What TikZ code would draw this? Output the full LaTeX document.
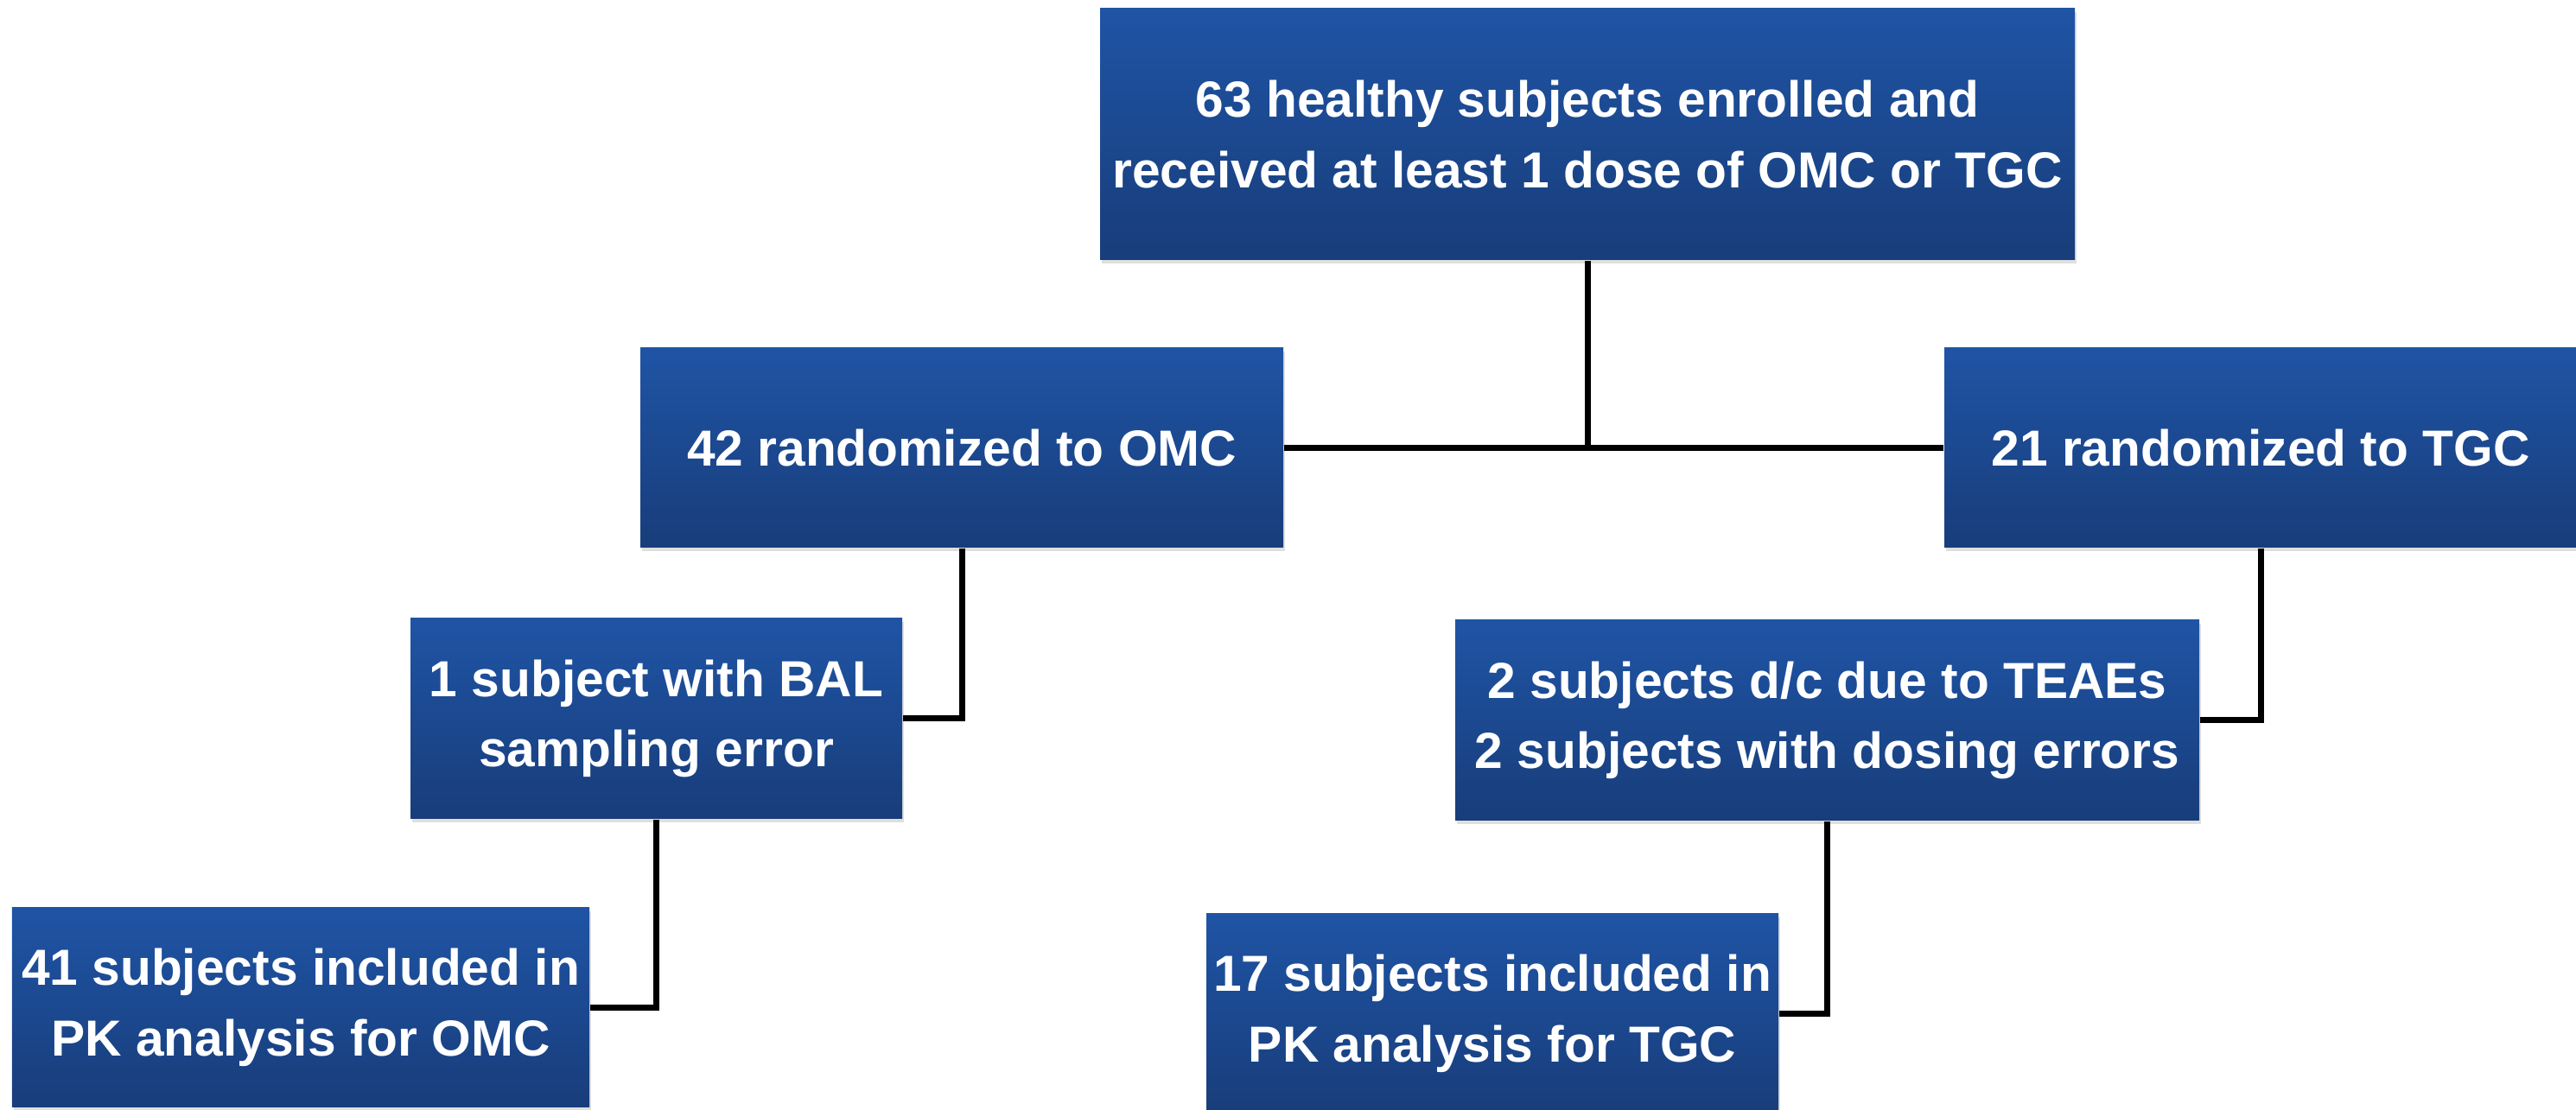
\documentclass[tikz,border=0pt]{standalone}
\usepackage{fontspec}
\setmainfont{Liberation Sans}
\usetikzlibrary{positioning,shadows}
\definecolor{boxtop}{RGB}{31,84,165}
\definecolor{boxbottom}{RGB}{24,61,122}

\begin{document}
\begin{tikzpicture}[
    box/.style={rectangle, top color=boxtop, bottom color=boxbottom, text=white, align=center, inner sep=0pt,
        font=\bfseries\fontsize{16.7}{23.3}\selectfont,
        drop shadow={opacity=0.25, shadow xshift=0.02cm, shadow yshift=-0.04cm}},
    link/.style={line width=0.07cm, black}
]
\useasboundingbox (0,0) rectangle (29.81,12.85);

\node[box, minimum width=11.28cm, minimum height=2.91cm] (enrolled) at (18.37,11.295) {63 healthy subjects enrolled and\\received at least 1 dose of OMC or TGC};
\node[box, minimum width=7.44cm, minimum height=2.31cm] (omc) at (11.13,7.665) {42 randomized to OMC};
\node[box, minimum width=7.32cm, minimum height=2.31cm] (tgc) at (26.16,7.665) {21 randomized to TGC};
\node[box, minimum width=5.69cm, minimum height=2.32cm] (bal) at (7.595,4.53) {1 subject with BAL\\sampling error};
\node[box, minimum width=8.61cm, minimum height=2.32cm] (dropout) at (21.145,4.51) {2 subjects d/c due to TEAEs\\2 subjects with dosing errors};
\node[box, minimum width=6.68cm, minimum height=2.31cm] (pkomc) at (3.48,1.185) {41 subjects included in\\PK analysis for OMC};
\node[box, minimum width=6.62cm, minimum height=2.31cm] (pktgc) at (17.27,1.115) {17 subjects included in\\PK analysis for TGC};

\draw[link] (enrolled) -- (enrolled |- omc);
\draw[link] (omc) -- (tgc);
\draw[link] (omc.south) |- (bal.east);
\draw[link] (bal.south) |- (pkomc.east);
\draw[link] (tgc.south) |- (dropout.east);
\draw[link] (dropout.south) |- (pktgc.east);
\end{tikzpicture}
\end{document}
